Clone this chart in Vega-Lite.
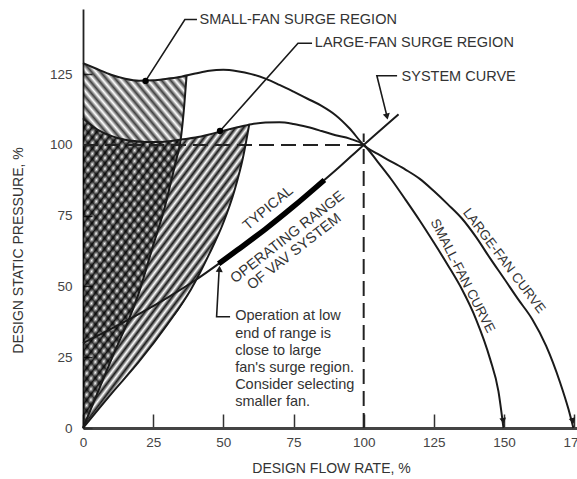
{
"$schema": "https://vega.github.io/schema/vega-lite/v6.json",
"width": 494, "height": 419,
"autosize": {"type": "none"},
"padding": {"left": 83, "top": 9, "right": 0, "bottom": 51},
"background": "white",
"config": {"font": "Liberation Sans", "view": {"stroke": null}},
"datasets": {
"regionA": [
{"x":0,"top":128.9,"bot":0},{"x":5,"top":126.8,"bot":12},{"x":10,"top":124.8,"bot":24},{"x":15,"top":123.4,"bot":36},{"x":20,"top":122.7,"bot":48},{"x":25,"top":122.8,"bot":64.5},{"x":29,"top":123.2,"bot":77.5},{"x":31.5,"top":123.5,"bot":87.6},{"x":33.3,"top":123.8,"bot":95},{"x":34.8,"top":124.1,"bot":101.8},{"x":35.9,"top":124.3,"bot":112},{"x":36.9,"top":124.5,"bot":124.5}],
"regionB": [
{"x":0,"top":109.4,"bot":0},{"x":5,"top":105.5,"bot":6},{"x":10,"top":103.2,"bot":12},{"x":15,"top":101.8,"bot":17.8},{"x":20,"top":101.2,"bot":23.5},{"x":25,"top":101,"bot":30},{"x":30,"top":101.2,"bot":36.5},{"x":34,"top":101.7,"bot":41.5},{"x":38.5,"top":102.3,"bot":49},{"x":42,"top":103,"bot":55.5},{"x":45,"top":103.7,"bot":61.5},{"x":47.5,"top":104.3,"bot":66.5},{"x":50,"top":105,"bot":72.5},{"x":52,"top":105.5,"bot":77.5},{"x":54,"top":105.9,"bot":84},{"x":55.5,"top":106.2,"bot":89.5},{"x":57,"top":106.6,"bot":95.5},{"x":58.2,"top":106.9,"bot":101},{"x":59.2,"top":107.1,"bot":107.1}],
"curves": [
{"c":"large","x":0,"y":128.9},{"c":"large","x":5,"y":126.8},{"c":"large","x":10,"y":124.8},{"c":"large","x":15,"y":123.4},{"c":"large","x":20,"y":122.7},{"c":"large","x":25,"y":122.8},{"c":"large","x":30,"y":123.4},{"c":"large","x":35,"y":124.1},{"c":"large","x":40,"y":125.2},{"c":"large","x":45,"y":126.2},{"c":"large","x":50,"y":126.5},{"c":"large","x":55,"y":126},{"c":"large","x":60,"y":125},{"c":"large","x":65,"y":123.4},{"c":"large","x":70,"y":121.2},{"c":"large","x":75,"y":118.8},{"c":"large","x":80,"y":116.3},{"c":"large","x":85,"y":113.8},{"c":"large","x":90,"y":110.5},{"c":"large","x":95,"y":105.8},{"c":"large","x":100,"y":100},{"c":"large","x":105,"y":96.8},{"c":"large","x":110,"y":94},{"c":"large","x":115,"y":91.2},{"c":"large","x":120,"y":88},{"c":"large","x":125,"y":83.7},{"c":"large","x":130,"y":79},{"c":"large","x":135,"y":74},{"c":"large","x":140,"y":67.5},{"c":"large","x":145,"y":60},{"c":"large","x":150,"y":52.8},{"c":"large","x":155,"y":45.5},{"c":"large","x":160,"y":38.5},{"c":"large","x":165,"y":29},{"c":"large","x":170,"y":16},{"c":"large","x":173,"y":6.5},{"c":"large","x":174.7,"y":0},
{"c":"small","x":0,"y":109.4},{"c":"small","x":5,"y":105.5},{"c":"small","x":10,"y":103.2},{"c":"small","x":15,"y":101.8},{"c":"small","x":20,"y":101.2},{"c":"small","x":25,"y":101},{"c":"small","x":30,"y":101.2},{"c":"small","x":35,"y":101.9},{"c":"small","x":40,"y":102.6},{"c":"small","x":45,"y":103.7},{"c":"small","x":50,"y":105},{"c":"small","x":55,"y":106.2},{"c":"small","x":60,"y":107.3},{"c":"small","x":65,"y":107.9},{"c":"small","x":70,"y":108},{"c":"small","x":75,"y":107.4},{"c":"small","x":80,"y":106.3},{"c":"small","x":85,"y":104.9},{"c":"small","x":90,"y":103.4},{"c":"small","x":95,"y":102.2},{"c":"small","x":100,"y":100},{"c":"small","x":105,"y":94},{"c":"small","x":110,"y":87.6},{"c":"small","x":115,"y":80.5},{"c":"small","x":120,"y":73.2},{"c":"small","x":125,"y":65.5},{"c":"small","x":130,"y":57.5},{"c":"small","x":135,"y":49},{"c":"small","x":140,"y":38.5},{"c":"small","x":145,"y":24.5},{"c":"small","x":148,"y":13},{"c":"small","x":149.8,"y":0},
{"c":"system","x":0,"y":30},{"c":"system","x":10,"y":35},{"c":"system","x":20,"y":40.3},{"c":"system","x":30,"y":46},{"c":"system","x":40,"y":52.2},{"c":"system","x":50,"y":59.2},{"c":"system","x":60,"y":66.5},{"c":"system","x":70,"y":74},{"c":"system","x":80,"y":82.5},{"c":"system","x":90,"y":91},{"c":"system","x":100,"y":100},{"c":"system","x":112.4,"y":110.8},
{"c":"surgeA","x":0,"y":0},{"c":"surgeA","x":10,"y":24},{"c":"surgeA","x":20,"y":48},{"c":"surgeA","x":25,"y":64.5},{"c":"surgeA","x":29,"y":77.5},{"c":"surgeA","x":31.5,"y":87.6},{"c":"surgeA","x":33.3,"y":95},{"c":"surgeA","x":34.8,"y":101.8},{"c":"surgeA","x":35.9,"y":112},{"c":"surgeA","x":36.9,"y":124.5},
{"c":"surgeB","x":0,"y":0},{"c":"surgeB","x":10,"y":12},{"c":"surgeB","x":20,"y":23.5},{"c":"surgeB","x":30,"y":36.5},{"c":"surgeB","x":38.5,"y":49},{"c":"surgeB","x":45,"y":61.5},{"c":"surgeB","x":50,"y":72.5},{"c":"surgeB","x":54,"y":84},{"c":"surgeB","x":57,"y":95.5},{"c":"surgeB","x":59.2,"y":107.1}],
"thick": [{"x":48.3,"y":58},{"x":55,"y":62.85},{"x":65,"y":70.25},{"x":75,"y":78.25},{"x":86,"y":87.6}],
"dash": [{"x":0,"y":100,"x2":100,"y2":100},{"x":100,"y":0,"x2":100,"y2":104}],
"leaders": [
{"l":1,"o":1,"x":40.6,"y":144.3},{"l":1,"o":2,"x":36.3,"y":144.3},{"l":1,"o":3,"x":22.3,"y":122.6},
{"l":2,"o":1,"x":81.6,"y":135.9},{"l":2,"o":2,"x":76.6,"y":135.9},{"l":2,"o":3,"x":48.8,"y":104.9},
{"l":3,"o":1,"x":111.9,"y":124.4},{"l":3,"o":2,"x":104.7,"y":124.4},{"l":3,"o":3,"x":108.2,"y":110.5},
{"l":4,"o":1,"x":52.4,"y":39.3},{"l":4,"o":2,"x":47.6,"y":39.3},{"l":4,"o":3,"x":48.5,"y":56}],
"dots": [{"x":22.3,"y":122.6},{"x":48.8,"y":104.9}],
"arrows": [{"id":"small","x":149.7,"y":2.5},{"id":"large","x":174.5,"y":2.5},{"id":"sys","x":108.3,"y":110},{"id":"op","x":48.6,"y":56.2}],
"texts": [
{"id":"h","t":"SMALL-FAN SURGE REGION","x":41.5,"y":144.1},
{"id":"h","t":"LARGE-FAN SURGE REGION","x":82.6,"y":135.9},
{"id":"h","t":"SYSTEM CURVE","x":113.5,"y":124.1},
{"id":"note","t":"Operation at low","x":54.2,"y":38.0},
{"id":"note","t":"end of range is","x":54.2,"y":31.95},
{"id":"note","t":"close to large","x":54.2,"y":25.9},
{"id":"note","t":"fan's surge region.","x":54.2,"y":19.85},
{"id":"note","t":"Consider selecting","x":54.2,"y":13.8},
{"id":"note","t":"smaller fan.","x":54.2,"y":7.75},
{"id":"typ","t":"TYPICAL","x":66,"y":77.6},
{"id":"op","t":"OPERATING RANGE","x":72.9,"y":67.3},
{"id":"op","t":"OF VAV SYSTEM","x":75.3,"y":62.2},
{"id":"sf","t":"SMALL-FAN CURVE","x":135.2,"y":53.7},
{"id":"lf","t":"LARGE-FAN CURVE","x":150,"y":59}]
},
"encoding": {
"x": {"field":"x","type":"quantitative","scale":{"domain":[0,176],"nice":false,"zero":false},
 "axis":{"values":[0,25,50,75,100,125,150,175],"grid":false,"tickSize":-14,"tickWidth":1.5,"tickColor":"#333","domainWidth":3,"domainColor":"#444","labelFontSize":13.5,"labelColor":"#444","labelPadding":21,"labelFlush":false,"labelOverlap":false,"title":"DESIGN FLOW RATE, %","titleFontSize":14,"titleFontWeight":"normal","titleColor":"#333","titleX":248,"titleY":40,"titleBaseline":"middle","titleAlign":"center"}},
"y": {"field":"y","type":"quantitative","scale":{"domain":[0,148],"nice":false,"zero":false},
 "axis":{"values":[0,25,50,75,100,125],"grid":false,"tickSize":-9,"tickWidth":1.5,"tickColor":"#333","domainWidth":1.8,"domainColor":"#222","labelFontSize":13.5,"labelColor":"#444","labelPadding":20,"labelOverlap":false,"title":"DESIGN STATIC PRESSURE, %","titleFontSize":14,"titleFontWeight":"normal","titleColor":"#333","titleAngle":270,"titleX":-65,"titleY":241,"titleAlign":"center","titleBaseline":"middle"}}
},
"layer": [
{"data":{"name":"regionB"},"mark":{"type":"area","interpolate":"monotone","clip":false,"fill":{"gradient":"linear","x1":0,"y1":0,"x2":0.8103,"y2":1.1355,"stops":[
{"offset":0,"color":"rgba(0,0,0,0.9)"},{"offset":0.01,"color":"rgba(0,0,0,0)"},{"offset":0.02,"color":"rgba(0,0,0,0.9)"},{"offset":0.03,"color":"rgba(0,0,0,0)"},{"offset":0.04,"color":"rgba(0,0,0,0.9)"},{"offset":0.05,"color":"rgba(0,0,0,0)"},{"offset":0.06,"color":"rgba(0,0,0,0.9)"},{"offset":0.07,"color":"rgba(0,0,0,0)"},{"offset":0.08,"color":"rgba(0,0,0,0.9)"},{"offset":0.09,"color":"rgba(0,0,0,0)"},
{"offset":0.10,"color":"rgba(0,0,0,0.9)"},{"offset":0.11,"color":"rgba(0,0,0,0)"},{"offset":0.12,"color":"rgba(0,0,0,0.9)"},{"offset":0.13,"color":"rgba(0,0,0,0)"},{"offset":0.14,"color":"rgba(0,0,0,0.9)"},{"offset":0.15,"color":"rgba(0,0,0,0)"},{"offset":0.16,"color":"rgba(0,0,0,0.9)"},{"offset":0.17,"color":"rgba(0,0,0,0)"},{"offset":0.18,"color":"rgba(0,0,0,0.9)"},{"offset":0.19,"color":"rgba(0,0,0,0)"},
{"offset":0.20,"color":"rgba(0,0,0,0.9)"},{"offset":0.21,"color":"rgba(0,0,0,0)"},{"offset":0.22,"color":"rgba(0,0,0,0.9)"},{"offset":0.23,"color":"rgba(0,0,0,0)"},{"offset":0.24,"color":"rgba(0,0,0,0.9)"},{"offset":0.25,"color":"rgba(0,0,0,0)"},{"offset":0.26,"color":"rgba(0,0,0,0.9)"},{"offset":0.27,"color":"rgba(0,0,0,0)"},{"offset":0.28,"color":"rgba(0,0,0,0.9)"},{"offset":0.29,"color":"rgba(0,0,0,0)"},
{"offset":0.30,"color":"rgba(0,0,0,0.9)"},{"offset":0.31,"color":"rgba(0,0,0,0)"},{"offset":0.32,"color":"rgba(0,0,0,0.9)"},{"offset":0.33,"color":"rgba(0,0,0,0)"},{"offset":0.34,"color":"rgba(0,0,0,0.9)"},{"offset":0.35,"color":"rgba(0,0,0,0)"},{"offset":0.36,"color":"rgba(0,0,0,0.9)"},{"offset":0.37,"color":"rgba(0,0,0,0)"},{"offset":0.38,"color":"rgba(0,0,0,0.9)"},{"offset":0.39,"color":"rgba(0,0,0,0)"},
{"offset":0.40,"color":"rgba(0,0,0,0.9)"},{"offset":0.41,"color":"rgba(0,0,0,0)"},{"offset":0.42,"color":"rgba(0,0,0,0.9)"},{"offset":0.43,"color":"rgba(0,0,0,0)"},{"offset":0.44,"color":"rgba(0,0,0,0.9)"},{"offset":0.45,"color":"rgba(0,0,0,0)"},{"offset":0.46,"color":"rgba(0,0,0,0.9)"},{"offset":0.47,"color":"rgba(0,0,0,0)"},{"offset":0.48,"color":"rgba(0,0,0,0.9)"},{"offset":0.49,"color":"rgba(0,0,0,0)"},
{"offset":0.50,"color":"rgba(0,0,0,0.9)"},{"offset":0.51,"color":"rgba(0,0,0,0)"},{"offset":0.52,"color":"rgba(0,0,0,0.9)"},{"offset":0.53,"color":"rgba(0,0,0,0)"},{"offset":0.54,"color":"rgba(0,0,0,0.9)"},{"offset":0.55,"color":"rgba(0,0,0,0)"},{"offset":0.56,"color":"rgba(0,0,0,0.9)"},{"offset":0.57,"color":"rgba(0,0,0,0)"},{"offset":0.58,"color":"rgba(0,0,0,0.9)"},{"offset":0.59,"color":"rgba(0,0,0,0)"},
{"offset":0.60,"color":"rgba(0,0,0,0.9)"},{"offset":0.61,"color":"rgba(0,0,0,0)"},{"offset":0.62,"color":"rgba(0,0,0,0.9)"},{"offset":0.63,"color":"rgba(0,0,0,0)"},{"offset":0.64,"color":"rgba(0,0,0,0.9)"},{"offset":0.65,"color":"rgba(0,0,0,0)"},{"offset":0.66,"color":"rgba(0,0,0,0.9)"},{"offset":0.67,"color":"rgba(0,0,0,0)"},{"offset":0.68,"color":"rgba(0,0,0,0.9)"},{"offset":0.69,"color":"rgba(0,0,0,0)"},
{"offset":0.70,"color":"rgba(0,0,0,0.9)"},{"offset":0.71,"color":"rgba(0,0,0,0)"},{"offset":0.72,"color":"rgba(0,0,0,0.9)"},{"offset":0.73,"color":"rgba(0,0,0,0)"},{"offset":0.74,"color":"rgba(0,0,0,0.9)"},{"offset":0.75,"color":"rgba(0,0,0,0)"},{"offset":0.76,"color":"rgba(0,0,0,0.9)"},{"offset":0.77,"color":"rgba(0,0,0,0)"},{"offset":0.78,"color":"rgba(0,0,0,0.9)"},{"offset":0.79,"color":"rgba(0,0,0,0)"},
{"offset":0.80,"color":"rgba(0,0,0,0.9)"},{"offset":0.81,"color":"rgba(0,0,0,0)"},{"offset":0.82,"color":"rgba(0,0,0,0.9)"},{"offset":0.83,"color":"rgba(0,0,0,0)"},{"offset":0.84,"color":"rgba(0,0,0,0.9)"},{"offset":0.85,"color":"rgba(0,0,0,0)"},{"offset":0.86,"color":"rgba(0,0,0,0.9)"},{"offset":0.87,"color":"rgba(0,0,0,0)"},{"offset":0.88,"color":"rgba(0,0,0,0.9)"},{"offset":0.89,"color":"rgba(0,0,0,0)"},
{"offset":0.90,"color":"rgba(0,0,0,0.9)"},{"offset":0.91,"color":"rgba(0,0,0,0)"},{"offset":0.92,"color":"rgba(0,0,0,0.9)"},{"offset":0.93,"color":"rgba(0,0,0,0)"},{"offset":0.94,"color":"rgba(0,0,0,0.9)"},{"offset":0.95,"color":"rgba(0,0,0,0)"},{"offset":0.96,"color":"rgba(0,0,0,0.9)"},{"offset":0.97,"color":"rgba(0,0,0,0)"},{"offset":0.98,"color":"rgba(0,0,0,0.9)"},{"offset":0.99,"color":"rgba(0,0,0,0)"},{"offset":1,"color":"rgba(0,0,0,0.9)"}]}},
 "encoding":{"y":{"field":"top","type":"quantitative"},"y2":{"field":"bot"}}},
{"data":{"name":"regionA"},"mark":{"type":"area","interpolate":"monotone","clip":false,"fill":{"gradient":"linear","x1":0,"y1":1,"x2":0.4496,"y2":-0.3235,"stops":[
{"offset":0,"color":"rgba(0,0,0,0.75)"},{"offset":0.01,"color":"rgba(0,0,0,0)"},{"offset":0.02,"color":"rgba(0,0,0,0.75)"},{"offset":0.03,"color":"rgba(0,0,0,0)"},{"offset":0.04,"color":"rgba(0,0,0,0.75)"},{"offset":0.05,"color":"rgba(0,0,0,0)"},{"offset":0.06,"color":"rgba(0,0,0,0.75)"},{"offset":0.07,"color":"rgba(0,0,0,0)"},{"offset":0.08,"color":"rgba(0,0,0,0.75)"},{"offset":0.09,"color":"rgba(0,0,0,0)"},
{"offset":0.10,"color":"rgba(0,0,0,0.75)"},{"offset":0.11,"color":"rgba(0,0,0,0)"},{"offset":0.12,"color":"rgba(0,0,0,0.75)"},{"offset":0.13,"color":"rgba(0,0,0,0)"},{"offset":0.14,"color":"rgba(0,0,0,0.75)"},{"offset":0.15,"color":"rgba(0,0,0,0)"},{"offset":0.16,"color":"rgba(0,0,0,0.75)"},{"offset":0.17,"color":"rgba(0,0,0,0)"},{"offset":0.18,"color":"rgba(0,0,0,0.75)"},{"offset":0.19,"color":"rgba(0,0,0,0)"},
{"offset":0.20,"color":"rgba(0,0,0,0.75)"},{"offset":0.21,"color":"rgba(0,0,0,0)"},{"offset":0.22,"color":"rgba(0,0,0,0.75)"},{"offset":0.23,"color":"rgba(0,0,0,0)"},{"offset":0.24,"color":"rgba(0,0,0,0.75)"},{"offset":0.25,"color":"rgba(0,0,0,0)"},{"offset":0.26,"color":"rgba(0,0,0,0.75)"},{"offset":0.27,"color":"rgba(0,0,0,0)"},{"offset":0.28,"color":"rgba(0,0,0,0.75)"},{"offset":0.29,"color":"rgba(0,0,0,0)"},
{"offset":0.30,"color":"rgba(0,0,0,0.75)"},{"offset":0.31,"color":"rgba(0,0,0,0)"},{"offset":0.32,"color":"rgba(0,0,0,0.75)"},{"offset":0.33,"color":"rgba(0,0,0,0)"},{"offset":0.34,"color":"rgba(0,0,0,0.75)"},{"offset":0.35,"color":"rgba(0,0,0,0)"},{"offset":0.36,"color":"rgba(0,0,0,0.75)"},{"offset":0.37,"color":"rgba(0,0,0,0)"},{"offset":0.38,"color":"rgba(0,0,0,0.75)"},{"offset":0.39,"color":"rgba(0,0,0,0)"},
{"offset":0.40,"color":"rgba(0,0,0,0.75)"},{"offset":0.41,"color":"rgba(0,0,0,0)"},{"offset":0.42,"color":"rgba(0,0,0,0.75)"},{"offset":0.43,"color":"rgba(0,0,0,0)"},{"offset":0.44,"color":"rgba(0,0,0,0.75)"},{"offset":0.45,"color":"rgba(0,0,0,0)"},{"offset":0.46,"color":"rgba(0,0,0,0.75)"},{"offset":0.47,"color":"rgba(0,0,0,0)"},{"offset":0.48,"color":"rgba(0,0,0,0.75)"},{"offset":0.49,"color":"rgba(0,0,0,0)"},
{"offset":0.50,"color":"rgba(0,0,0,0.75)"},{"offset":0.51,"color":"rgba(0,0,0,0)"},{"offset":0.52,"color":"rgba(0,0,0,0.75)"},{"offset":0.53,"color":"rgba(0,0,0,0)"},{"offset":0.54,"color":"rgba(0,0,0,0.75)"},{"offset":0.55,"color":"rgba(0,0,0,0)"},{"offset":0.56,"color":"rgba(0,0,0,0.75)"},{"offset":0.57,"color":"rgba(0,0,0,0)"},{"offset":0.58,"color":"rgba(0,0,0,0.75)"},{"offset":0.59,"color":"rgba(0,0,0,0)"},
{"offset":0.60,"color":"rgba(0,0,0,0.75)"},{"offset":0.61,"color":"rgba(0,0,0,0)"},{"offset":0.62,"color":"rgba(0,0,0,0.75)"},{"offset":0.63,"color":"rgba(0,0,0,0)"},{"offset":0.64,"color":"rgba(0,0,0,0.75)"},{"offset":0.65,"color":"rgba(0,0,0,0)"},{"offset":0.66,"color":"rgba(0,0,0,0.75)"},{"offset":0.67,"color":"rgba(0,0,0,0)"},{"offset":0.68,"color":"rgba(0,0,0,0.75)"},{"offset":0.69,"color":"rgba(0,0,0,0)"},
{"offset":0.70,"color":"rgba(0,0,0,0.75)"},{"offset":0.71,"color":"rgba(0,0,0,0)"},{"offset":0.72,"color":"rgba(0,0,0,0.75)"},{"offset":0.73,"color":"rgba(0,0,0,0)"},{"offset":0.74,"color":"rgba(0,0,0,0.75)"},{"offset":0.75,"color":"rgba(0,0,0,0)"},{"offset":0.76,"color":"rgba(0,0,0,0.75)"},{"offset":0.77,"color":"rgba(0,0,0,0)"},{"offset":0.78,"color":"rgba(0,0,0,0.75)"},{"offset":0.79,"color":"rgba(0,0,0,0)"},
{"offset":0.80,"color":"rgba(0,0,0,0.75)"},{"offset":0.81,"color":"rgba(0,0,0,0)"},{"offset":0.82,"color":"rgba(0,0,0,0.75)"},{"offset":0.83,"color":"rgba(0,0,0,0)"},{"offset":0.84,"color":"rgba(0,0,0,0.75)"},{"offset":0.85,"color":"rgba(0,0,0,0)"},{"offset":0.86,"color":"rgba(0,0,0,0.75)"},{"offset":0.87,"color":"rgba(0,0,0,0)"},{"offset":0.88,"color":"rgba(0,0,0,0.75)"},{"offset":0.89,"color":"rgba(0,0,0,0)"},
{"offset":0.90,"color":"rgba(0,0,0,0.75)"},{"offset":0.91,"color":"rgba(0,0,0,0)"},{"offset":0.92,"color":"rgba(0,0,0,0.75)"},{"offset":0.93,"color":"rgba(0,0,0,0)"},{"offset":0.94,"color":"rgba(0,0,0,0.75)"},{"offset":0.95,"color":"rgba(0,0,0,0)"},{"offset":0.96,"color":"rgba(0,0,0,0.75)"},{"offset":0.97,"color":"rgba(0,0,0,0)"},{"offset":0.98,"color":"rgba(0,0,0,0.75)"},{"offset":0.99,"color":"rgba(0,0,0,0)"},{"offset":1,"color":"rgba(0,0,0,0.75)"}]}},
 "encoding":{"y":{"field":"top","type":"quantitative"},"y2":{"field":"bot"}}},
{"data":{"name":"dash"},"mark":{"type":"rule","color":"#222","strokeWidth":2,"strokeDash":[15,7]},
 "encoding":{"x2":{"field":"x2"},"y2":{"field":"y2"}}},
{"data":{"name":"curves"},"mark":{"type":"line","interpolate":"monotone","color":"#1a1a1a","strokeWidth":2,"clip":false},
 "encoding":{"detail":{"field":"c","type":"nominal"}}},
{"data":{"name":"thick"},"mark":{"type":"line","interpolate":"monotone","color":"#000","strokeWidth":5.5},"encoding":{}},
{"data":{"name":"leaders"},"mark":{"type":"line","color":"#1a1a1a","strokeWidth":1.6},
 "encoding":{"detail":{"field":"l","type":"nominal"},"order":{"field":"o","type":"quantitative"}}},
{"data":{"name":"dots"},"mark":{"type":"point","filled":true,"color":"#000","size":40,"opacity":1},"encoding":{}},
{"data":{"name":"arrows"},"transform":[{"filter":"datum.id == 'small'"}],"mark":{"type":"point","shape":"triangle-down","filled":true,"color":"#1a1a1a","size":45,"angle":-9,"opacity":1},"encoding":{}},
{"data":{"name":"arrows"},"transform":[{"filter":"datum.id == 'large'"}],"mark":{"type":"point","shape":"triangle-down","filled":true,"color":"#1a1a1a","size":45,"angle":-17,"opacity":1},"encoding":{}},
{"data":{"name":"arrows"},"transform":[{"filter":"datum.id == 'sys'"}],"mark":{"type":"point","shape":"triangle-down","filled":true,"color":"#1a1a1a","size":50,"angle":-13,"opacity":1},"encoding":{}},
{"data":{"name":"arrows"},"transform":[{"filter":"datum.id == 'op'"}],"mark":{"type":"point","shape":"triangle-up","filled":true,"color":"#1a1a1a","size":50,"angle":3,"opacity":1},"encoding":{}},
{"data":{"name":"texts"},"transform":[{"filter":"datum.id == 'h'"}],"mark":{"type":"text","align":"left","baseline":"middle","fontSize":14.5,"color":"#333"},"encoding":{"text":{"field":"t"}}},
{"data":{"name":"texts"},"transform":[{"filter":"datum.id == 'note'"}],"mark":{"type":"text","align":"left","baseline":"alphabetic","fontSize":14.5,"color":"#333"},"encoding":{"text":{"field":"t"}}},
{"data":{"name":"texts"},"transform":[{"filter":"datum.id == 'typ'"}],"mark":{"type":"text","align":"center","baseline":"middle","fontSize":14.5,"color":"#333","angle":320},"encoding":{"text":{"field":"t"}}},
{"data":{"name":"texts"},"transform":[{"filter":"datum.id == 'op'"}],"mark":{"type":"text","align":"center","baseline":"middle","fontSize":14.5,"color":"#333","angle":322},"encoding":{"text":{"field":"t"}}},
{"data":{"name":"texts"},"transform":[{"filter":"datum.id == 'sf'"}],"mark":{"type":"text","align":"center","baseline":"middle","fontSize":13.5,"color":"#333","angle":63},"encoding":{"text":{"field":"t"}}},
{"data":{"name":"texts"},"transform":[{"filter":"datum.id == 'lf'"}],"mark":{"type":"text","align":"center","baseline":"middle","fontSize":13.5,"color":"#333","angle":53},"encoding":{"text":{"field":"t"}}}
]
}
